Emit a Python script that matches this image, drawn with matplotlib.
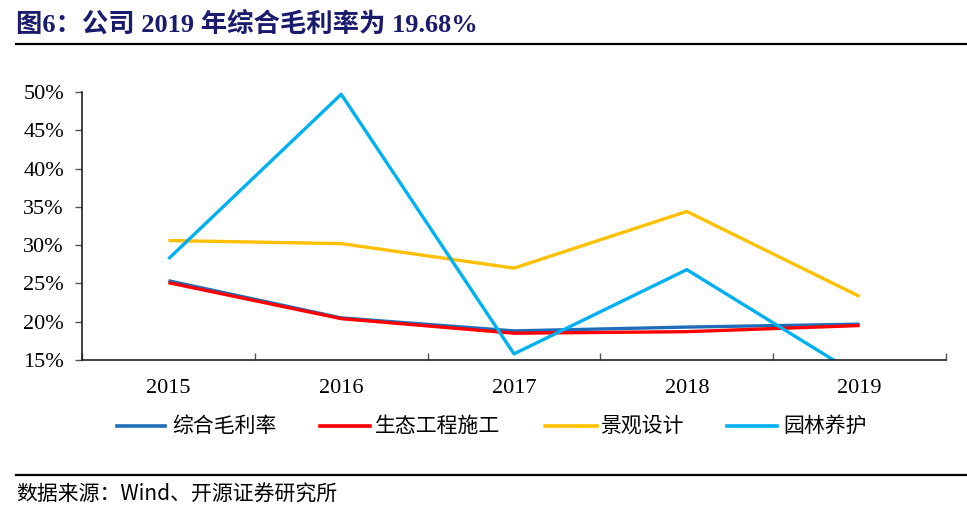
import matplotlib
matplotlib.use("Agg")
import matplotlib.pyplot as plt
from matplotlib.lines import Line2D

### Data
years = ['2015', '2016', '2017', '2018', '2019']
series_names = ['综合毛利率', '生态工程施工', '景观设计', '园林养护']
gross_total = [25.35, 20.5, 18.8, 19.3, 19.68]
eco_construction = [25.1, 20.4, 18.5, 18.7, 19.5]
landscape_design = [30.6, 30.2, 27.0, 34.4, 23.3]
garden_maintain = [28.2, 49.7, 15.8, 26.8, 12.9]
yticks = [15, 20, 25, 30, 35, 40, 45, 50]

colors = ['#1F6DB8', '#FF0000', '#FFC000', '#00B0F0']
serif = ['Liberation Serif', 'Noto Sans CJK SC']
cjk = ['Noto Sans CJK SC', 'Liberation Serif']

W, H = 967, 511
fig = plt.figure(figsize=(W/100, H/100), dpi=100)
ax = fig.add_axes([82/W, 1-360/H, (946-82)/W, (360-92)/H])

x = list(range(len(years)))
for vals, c in zip([gross_total, eco_construction, landscape_design, garden_maintain], colors):
    ax.plot(x, vals, color=c, lw=2.4, solid_capstyle='butt')

ax.set_xlim(-0.5, 4.5)
ax.set_ylim(15, 50)
ax.set_yticks(yticks)
ax.set_yticklabels([f'{v}%' for v in yticks], fontfamily=serif, fontsize=16)
ax.tick_params(axis='y', direction='out', length=5, width=1, color='#555555', pad=8)

ax.set_xticks([i - 0.5 for i in range(len(years) + 1)])
ax.set_xticklabels([])
ax.tick_params(axis='x', which='major', direction='in', length=5, width=1, color='#555555')
ax.set_xticks(x, minor=True)
ax.set_xticklabels(years, minor=True, fontfamily=serif, fontsize=16)
ax.tick_params(axis='x', which='minor', length=0, pad=14)

for s in ['top', 'right']:
    ax.spines[s].set_visible(False)
for s in ['left', 'bottom']:
    ax.spines[s].set_color('#222222')
    ax.spines[s].set_linewidth(1.2)

# legend, placed by hand to match the reference spacing
leg_line_x = [(117, 165), (320, 370), (545, 597), (727, 777)]
leg_text_x = [172, 375, 600, 783]
leg_y = 1 - 426/H
for (x0, x1), tx, name, c in zip(leg_line_x, leg_text_x, series_names, colors):
    fig.add_artist(Line2D([x0/W, x1/W], [leg_y, leg_y], color=c, lw=2.6))
    fig.text(tx/W, leg_y, name, fontfamily=cjk, fontsize=15, va='center', ha='left')

# title and rules
fig.text(16/W, 1-24/H, '图6：公司 2019 年综合毛利率为 19.68%', fontfamily=serif,
         fontsize=19, fontweight='bold', color='#1B1B6E', va='center', ha='left')
fig.add_artist(Line2D([16/W, 1], [1-44/H, 1-44/H], color='black', lw=1.6))
fig.add_artist(Line2D([16/W, 1], [1-475/H, 1-475/H], color='black', lw=1.6))
fig.text(16/W, 1-495/H, '数据来源：Wind、开源证券研究所', fontfamily=cjk,
         fontsize=15, color='black', va='center', ha='left')

fig.savefig('out.png', dpi=100)
